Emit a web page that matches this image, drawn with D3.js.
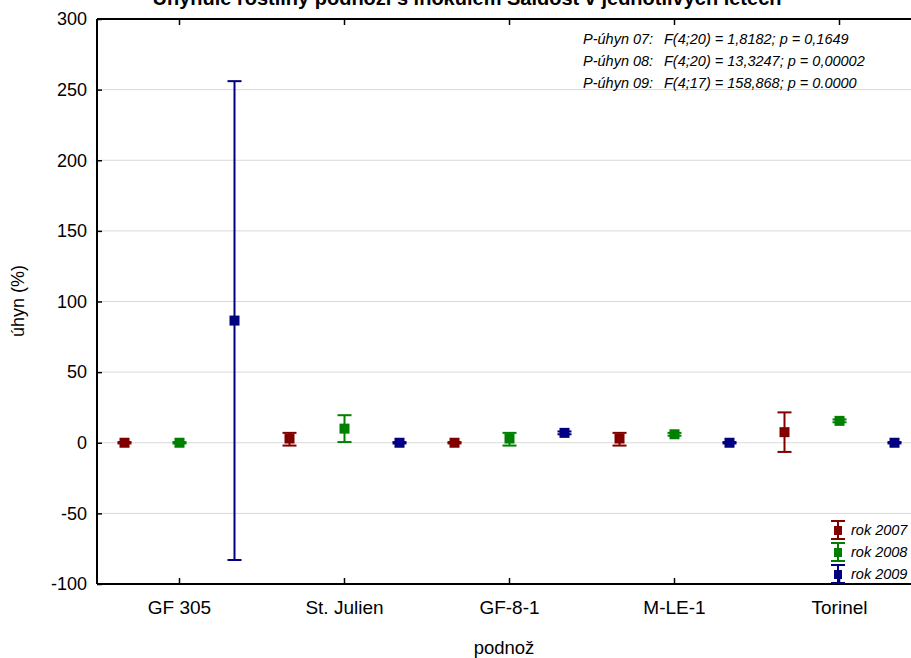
<!DOCTYPE html>
<html>
<head>
<meta charset="utf-8">
<script src="https://cdn.jsdelivr.net/npm/d3@7"></script>
<style>
  body { margin: 0; background: #fff; }
  text { font-family: "Liberation Sans", Arial, sans-serif; }
</style>
</head>
<body>
<div id="chart"></div>
<script>
// DATA
////////////////////////////
var podnoze = ["GF 305", "St. Julien", "GF-8-1", "M-LE-1", "Torinel"];
var roky = ["rok 2007", "rok 2008", "rok 2009"];
var barvy = ["#800000", "#008000", "#000080"];

// mean, lower, upper for each year (same order as podnoze)
var mean07 = [0, 3, 0, 3, 7.5];
var low07  = [-0.5, -2, -0.5, -2, -6.5];
var up07   = [0.5, 7, 0.5, 7, 21.5];

var mean08 = [0, 10, 3, 6, 15.5];
var low08  = [-0.5, 0.5, -2, 5, 14.5];
var up08   = [0.5, 19.5, 7, 7, 16.5];

var mean09 = [86.5, 0, 7, 0, 0];
var low09  = [-83, -0.5, 6, -0.5, -0.5];
var up09   = [256, 0.5, 8, 0.5, 0.5];

var yTicks = [-100, -50, 0, 50, 100, 150, 200, 250, 300];

var stats = [
  ["P-úhyn 07:", "F(4;20) = 1,8182; p = 0,1649"],
  ["P-úhyn 08:", "F(4;20) = 13,3247; p = 0,00002"],
  ["P-úhyn 09:", "F(4;17) = 158,868; p = 0.0000"]
];

var series = [
  { mean: mean07, low: low07, up: up07 },
  { mean: mean08, low: low08, up: up08 },
  { mean: mean09, low: low09, up: up09 }
];

// SETUP
////////////////////////////
var width = 911, height = 658;
var plotLeft = 97, plotTop = 19, plotBottom = 584;

var svg = d3.select("#chart").append("svg")
    .attr("width", width)
    .attr("height", height);

var x = d3.scaleBand()
    .domain(podnoze)
    .range([plotLeft, plotLeft + 5 * 165]);

var y = d3.scaleLinear()
    .domain([-100, 300])
    .range([plotBottom, plotTop]);

var offset = d3.scalePoint()
    .domain([0, 1, 2])
    .range([-55, 55]);

// title (cut off at the top like the original)
svg.append("text")
    .attr("x", 467)
    .attr("y", 5)
    .attr("text-anchor", "middle")
    .style("font-weight", "bold")
    .style("font-size", "20px")
    .text("Uhynulé rostliny podnoží s inokulem Saldost v jednotlivých letech");

// gridlines
svg.append("g").selectAll("line")
  .data(yTicks.slice(1, -1))
  .enter().append("line")
    .attr("x1", plotLeft).attr("x2", width)
    .attr("y1", d => y(d)).attr("y2", d => y(d))
    .attr("stroke", "#d9d9d9")
    .attr("stroke-width", 1);

// axes
var yAxis = d3.axisLeft(y).tickValues(yTicks).tickSize(-5).tickPadding(10)
    .tickFormat(d => String(d));   // plain hyphen like the original
var gy = svg.append("g")
    .attr("transform", "translate(" + plotLeft + ",0)")
    .call(yAxis);
gy.select(".domain").remove();
gy.selectAll("text").style("font-size", "18px").attr("fill", "#000");
gy.selectAll("line").attr("stroke-width", 1.5);

var xAxis = d3.axisBottom(x).tickSize(-6).tickPadding(17);
var gx = svg.append("g")
    .attr("transform", "translate(0," + plotBottom + ")")
    .call(xAxis);
gx.select(".domain").remove();
gx.selectAll("text").style("font-size", "19px").attr("fill", "#000");
gx.selectAll("line").attr("stroke-width", 1.5);

var gxt = svg.append("g")
    .attr("transform", "translate(0," + plotTop + ")")
    .call(d3.axisTop(x).tickSize(-6).tickFormat(""));
gxt.select(".domain").remove();
gxt.selectAll("line").attr("stroke-width", 1.5);

// frame lines
svg.append("line").attr("x1", plotLeft).attr("x2", width).attr("y1", plotTop).attr("y2", plotTop)
    .attr("stroke", "#000").attr("stroke-width", 2);
svg.append("line").attr("x1", plotLeft).attr("x2", width).attr("y1", plotBottom).attr("y2", plotBottom)
    .attr("stroke", "#000").attr("stroke-width", 2);
svg.append("line").attr("x1", plotLeft).attr("x2", plotLeft).attr("y1", plotTop).attr("y2", plotBottom)
    .attr("stroke", "#000").attr("stroke-width", 2);

// axis titles
svg.append("text")
    .attr("transform", "translate(24," + 301 + ") rotate(-90)")
    .attr("text-anchor", "middle")
    .style("font-size", "18px")
    .text("úhyn (%)");

svg.append("text")
    .attr("x", 504).attr("y", 654)
    .attr("text-anchor", "middle")
    .style("font-size", "18.5px")
    .text("podnož");

// error bars + means
series.forEach(function(s, i) {
  var g = svg.append("g").attr("fill", barvy[i]).attr("stroke", barvy[i]);
  var cx = function(d, j) { return x(podnoze[j]) + x.bandwidth() / 2 + offset(i); };

  g.selectAll("line.bar").data(s.mean).enter().append("line")
      .attr("class", "bar")
      .attr("x1", cx).attr("x2", cx)
      .attr("y1", (d, j) => y(s.low[j])).attr("y2", (d, j) => y(s.up[j]))
      .attr("stroke-width", 2);

  ["low", "up"].forEach(function(k) {
    g.selectAll("line." + k).data(s[k]).enter().append("line")
        .attr("class", k)
        .attr("x1", (d, j) => cx(d, j) - 7).attr("x2", (d, j) => cx(d, j) + 7)
        .attr("y1", d => y(d)).attr("y2", d => y(d))
        .attr("stroke-width", 2);
  });

  g.selectAll("rect").data(s.mean).enter().append("rect")
      .attr("x", (d, j) => cx(d, j) - 5)
      .attr("y", d => y(d) - 5)
      .attr("width", 10).attr("height", 10)
      .attr("stroke", "none");
});

// statistics text
var st = svg.append("g").style("font-style", "italic").style("font-size", "14.5px");
stats.forEach(function(r, i) {
  st.append("text").attr("x", 583).attr("y", 44 + i * 22).text(r[0]);
  st.append("text").attr("x", 664).attr("y", 44 + i * 22).text(r[1]);
});

// legend
var lg = svg.append("g");
roky.forEach(function(r, i) {
  var ly = 530 + i * 22;
  var c = barvy[i];
  lg.append("line").attr("x1", 838).attr("x2", 838).attr("y1", ly - 9).attr("y2", ly + 9)
      .attr("stroke", c).attr("stroke-width", 2);
  lg.append("line").attr("x1", 831).attr("x2", 845).attr("y1", ly - 9).attr("y2", ly - 9)
      .attr("stroke", c).attr("stroke-width", 2);
  lg.append("line").attr("x1", 831).attr("x2", 845).attr("y1", ly + 9).attr("y2", ly + 9)
      .attr("stroke", c).attr("stroke-width", 2);
  lg.append("rect").attr("x", 834).attr("y", ly - 4).attr("width", 8).attr("height", 9)
      .attr("fill", c);
  lg.append("text").attr("x", 851).attr("y", ly + 5)
      .style("font-style", "italic").style("font-size", "14.5px")
      .text(r);
});
</script>
</body>
</html>
